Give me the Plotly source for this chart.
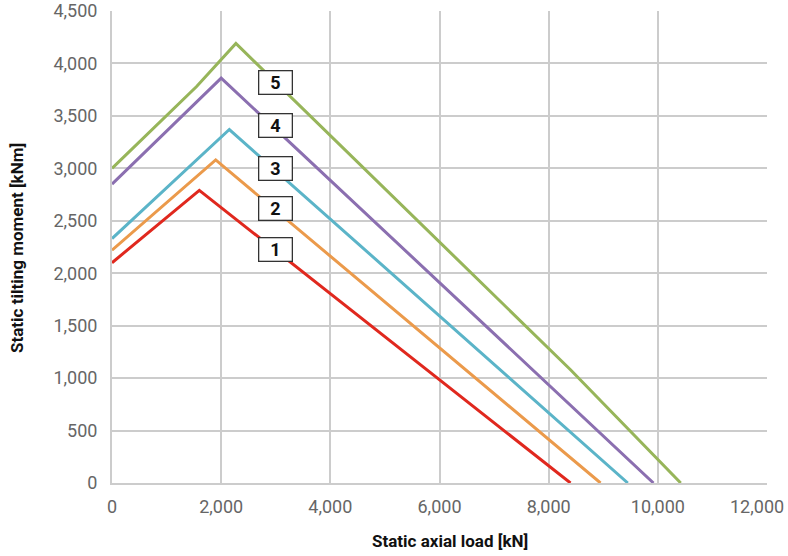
import plotly.graph_objects as go

# Curve data (axial load kN, tilting moment kNm)
names = ["1", "2", "3", "4", "5"]
colors = ["#e0281e", "#eb9a4b", "#5bb4c8", "#8b6fb0", "#97b55a"]
x1 = [0, 1600, 8400]
y1 = [2100, 2790, 0]
x2 = [0, 1900, 8950]
y2 = [2220, 3080, 0]
x3 = [0, 2150, 9450]
y3 = [2330, 3370, 0]
x4 = [0, 2000, 9920]
y4 = [2850, 3860, 0]
x5 = [0, 1550, 2270, 8400, 10420]
y5 = [3000, 3780, 4190, 1080, 0]

# x tick values / labels
x_ticks = [0, 2000, 4000, 6000, 8000, 10000, 12000]
x_tick_labels = ["0", "2,000", "4,000", "6,000", "8,000", "10,000", "12,000"]

# label box positions
label_x = [3000, 3000, 3000, 3000, 3000]
label_y = [2230, 2620, 3000, 3410, 3820]

xs = [x1, x2, x3, x4, x5]
ys = [y1, y2, y3, y4, y5]

FONT = "Roboto, Arial, sans-serif"
TICK_FONT = dict(family=FONT, size=18, color="#666666")

fig = go.Figure()
for n, c, x, y in zip(names, colors, xs, ys):
    fig.add_trace(go.Scatter(x=x, y=y, mode="lines", name=n,
                             line=dict(color=c, width=3), showlegend=False))

for n, lx, ly in zip(names, label_x, label_y):
    fig.add_annotation(x=lx, y=ly, text="<b>%s</b>" % n, showarrow=False,
                       font=dict(family=FONT, size=18, color="#111111"),
                       bgcolor="white", bordercolor="#333333", borderwidth=1.3,
                       width=30, height=20, borderpad=1)

# last x tick label is right-clamped to the page edge (as in the original)
fig.add_annotation(x=x_ticks[-1], xref="x", y=0, yref="paper",
                   text=x_tick_labels[-1], showarrow=False,
                   xanchor="right", yanchor="middle", xshift=19, yshift=-23,
                   font=TICK_FONT)

fig.add_annotation(xref="paper", yref="paper", x=0.516, y=-0.123,
                   xanchor="center", yanchor="middle", showarrow=False,
                   text="<b>Static axial load [kN]</b>",
                   font=dict(family=FONT, size=17, color="#111111"))
fig.add_annotation(xref="paper", yref="paper", x=-0.145, y=0.498,
                   xanchor="center", yanchor="middle", showarrow=False,
                   textangle=-90,
                   text="<b>Static tilting moment [kNm]</b>",
                   font=dict(family=FONT, size=17, color="#111111"))

fig.update_layout(
    width=788, height=556,
    margin=dict(l=112, r=21, t=11, b=73, autoexpand=False),
    plot_bgcolor="white", paper_bgcolor="white",
    font=TICK_FONT,
    xaxis=dict(range=[0, 12000], tickvals=x_ticks,
               ticktext=x_tick_labels[:-1] + [""],
               showgrid=True, gridcolor="#cccccc", gridwidth=2,
               showline=True, linecolor="#cccccc", linewidth=2, mirror=False,
               zeroline=False, ticks="", automargin=False,
               ticklabelstandoff=6, ticklabeloverflow="allow"),
    yaxis=dict(range=[0, 4500], dtick=500, tickformat=",d",
               showgrid=True, gridcolor="#cccccc", gridwidth=2,
               showline=True, linecolor="#cccccc", linewidth=2,
               zeroline=False, ticks="", automargin=False,
               ticklabelstandoff=9, ticklabeloverflow="allow"),
)

fig.write_html("out.html", config={"displayModeBar": False},
               post_script="document.body.style.margin='0';document.body.style.overflow='hidden';")
